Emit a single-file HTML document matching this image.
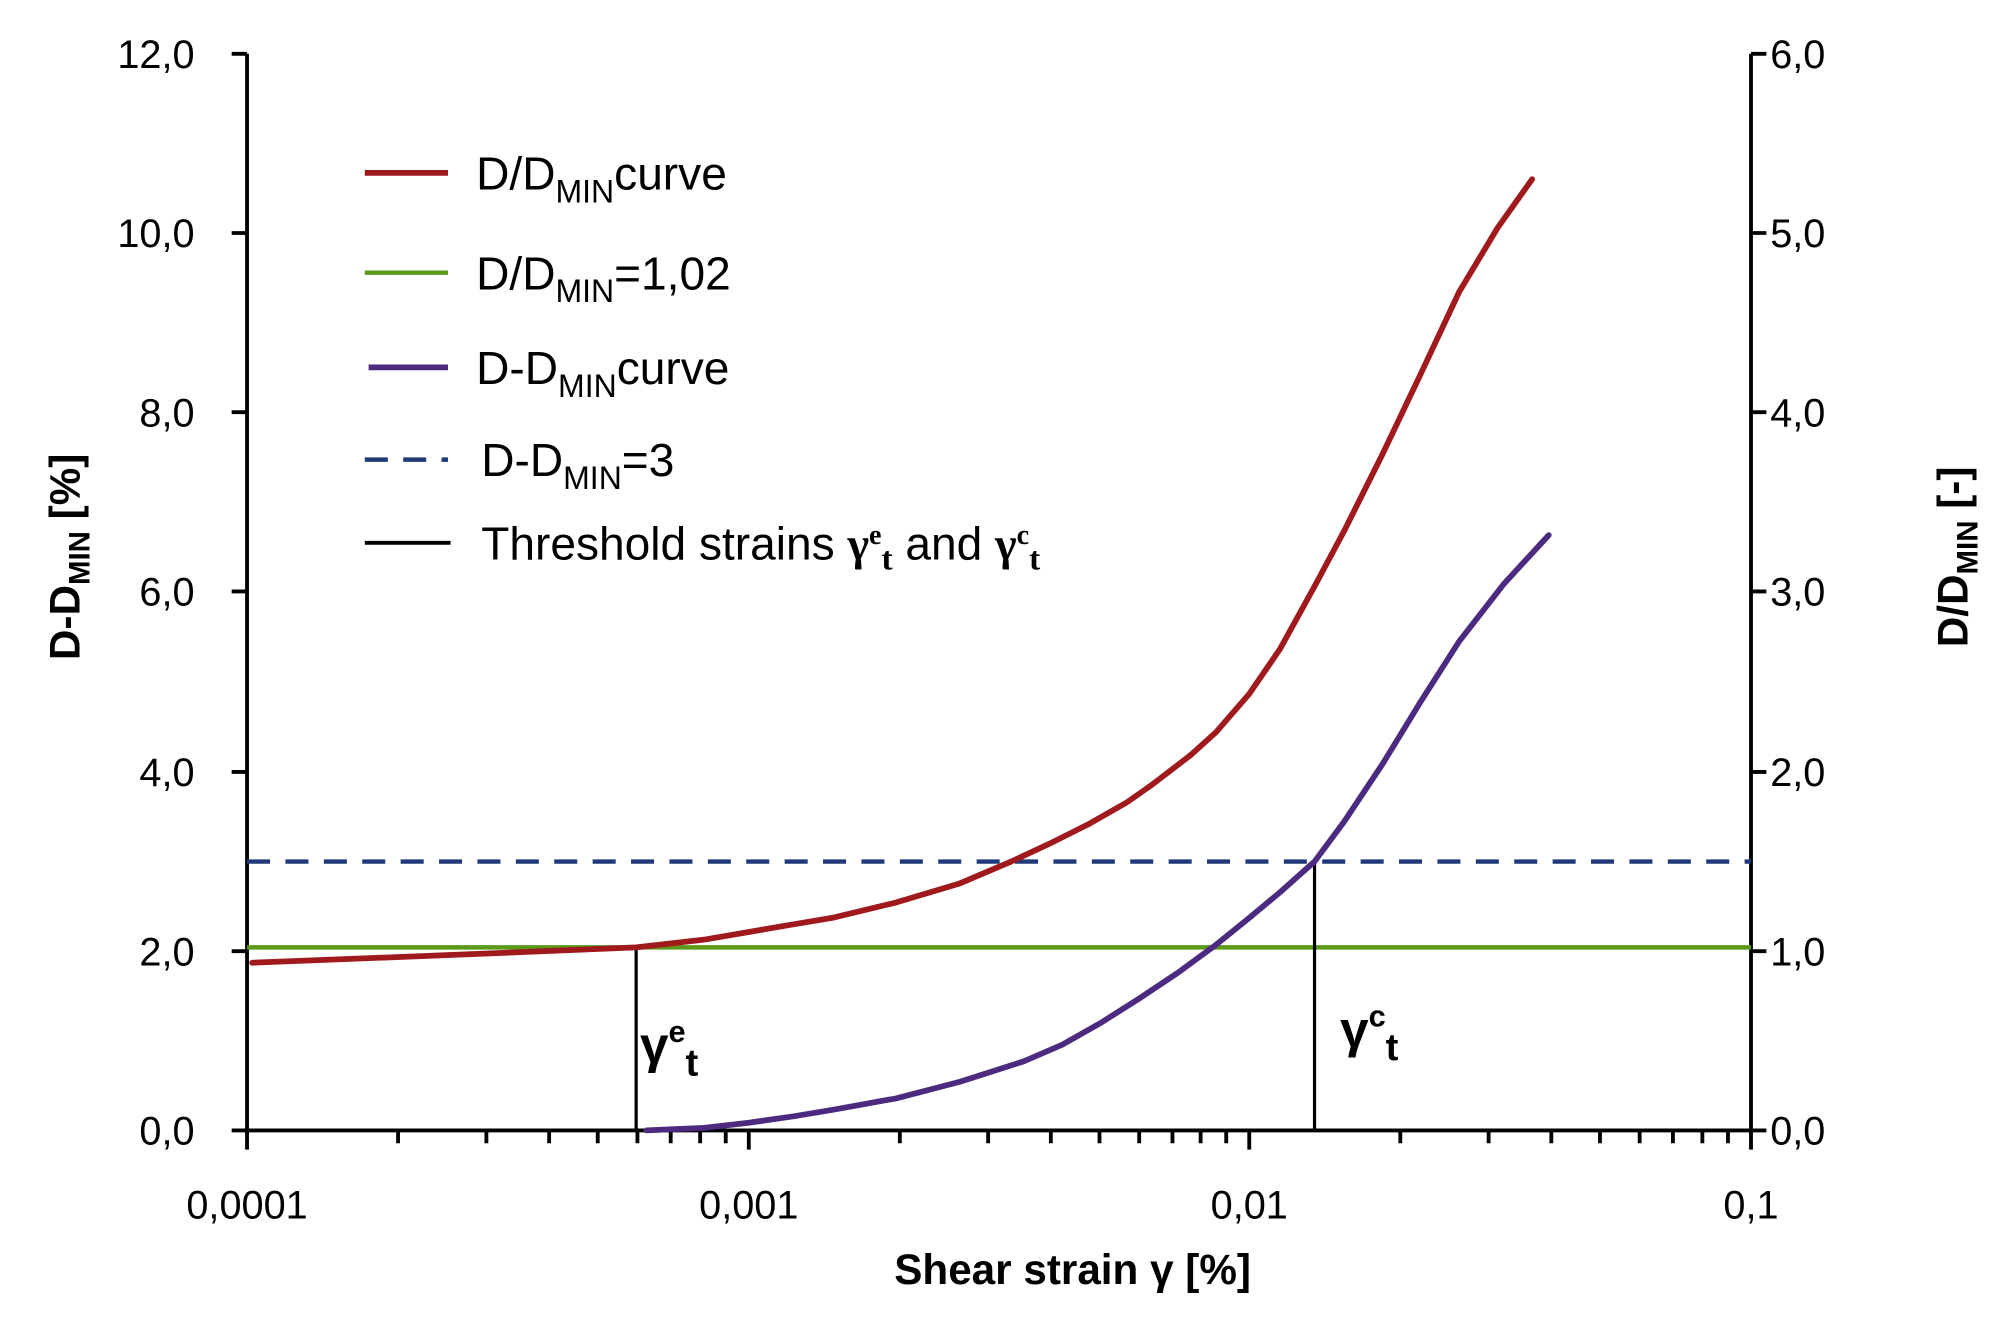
<!DOCTYPE html>
<html><head><meta charset="utf-8"><style>
html,body{margin:0;padding:0;background:#fff;}
svg{display:block;}
text{font-family:"Liberation Sans",sans-serif;}
</style></head><body>
<svg width="2007" height="1325" viewBox="0 0 1568 1035" preserveAspectRatio="none" xmlns="http://www.w3.org/2000/svg">
<g stroke="#000" stroke-width="3" fill="none">
<line x1="193" y1="42" x2="193" y2="885"/>
<line x1="1368" y1="42" x2="1368" y2="885"/>
<line x1="191" y1="883" x2="1370" y2="883"/>
<path d="M181 42H193M181 182H193M181 322H193M181 462H193M181 603H193M181 743H193M181 883H193"/>
<path d="M1368 42H1380M1368 182H1380M1368 322H1380M1368 462H1380M1368 603H1380M1368 743H1380M1368 883H1380"/>
<path d="M193 883V898M585 883V898M976 883V898M1368 883V898"/>
<path d="M311 883V893M380 883V893M429 883V893M467 883V893M498 883V893M524 883V893M547 883V893M567 883V893
M703 883V893M772 883V893M821 883V893M859 883V893M890 883V893M916 883V893M938 883V893M958 883V893
M1094 883V893M1163 883V893M1212 883V893M1250 883V893M1281 883V893M1307 883V893M1330 883V893M1350 883V893"/>
</g>
<line x1="193" y1="740" x2="1368" y2="740" stroke="#5a9a1a" stroke-width="3.5"/>
<line x1="193" y1="673" x2="1368" y2="673" stroke="#1f3a78" stroke-width="3.5" stroke-dasharray="18,12"/>
<g stroke="#000" stroke-width="2.5">
<line x1="497" y1="740" x2="497" y2="883"/>
<line x1="1027" y1="673" x2="1027" y2="883"/>
</g>
<polyline points="197,752 300,748 400,744 497,740 550,734 585,728 620,722 650,717 700,705 750,690 790,673 820,659 850,644 880,627 900,613 930,590 950,572 976,542 1000,507 1027,458 1050,415 1080,355 1110,292 1140,228 1170,178 1197,140" stroke="#a0191c" stroke-width="4.5" fill="none" stroke-linejoin="round" stroke-linecap="round"/>
<polyline points="505,883 550,881 585,877 620,872 650,867 700,858 750,845 800,829 830,816 860,799 890,780 920,760 950,738 976,717 1000,697 1027,673 1050,642 1080,597 1110,548 1140,501 1175,456 1210,418" stroke="#4b2a80" stroke-width="4.5" fill="none" stroke-linejoin="round" stroke-linecap="round"/>
<g font-size="31" text-anchor="end" fill="#000">
<text x="152" y="53">12,0</text><text x="152" y="193">10,0</text><text x="152" y="333">8,0</text>
<text x="152" y="473">6,0</text><text x="152" y="614">4,0</text><text x="152" y="754">2,0</text><text x="152" y="894">0,0</text>
</g>
<g font-size="31" fill="#000">
<text x="1383" y="53">6,0</text><text x="1383" y="193">5,0</text><text x="1383" y="333">4,0</text>
<text x="1383" y="473">3,0</text><text x="1383" y="614">2,0</text><text x="1383" y="754">1,0</text><text x="1383" y="894">0,0</text>
</g>
<g font-size="31" text-anchor="middle">
<text x="193" y="952">0,0001</text><text x="585" y="952">0,001</text><text x="976" y="952">0,01</text><text x="1368" y="952">0,1</text>
</g>
<text x="838" y="1003" font-size="33" font-weight="bold" text-anchor="middle">Shear strain γ [%]</text>
<text transform="translate(62,435) rotate(-90)" font-size="33" font-weight="bold" text-anchor="middle">D-D<tspan font-size="23" dy="8">MIN</tspan><tspan dy="-8"> [%]</tspan></text>
<text transform="translate(1537,435) rotate(-90)" font-size="33" font-weight="bold" text-anchor="middle">D/D<tspan font-size="23" dy="8">MIN</tspan><tspan dy="-8"> [-]</tspan></text>
<g stroke-width="4.5">
<line x1="285" y1="135" x2="350" y2="135" stroke="#a0191c"/>
<line x1="285" y1="213" x2="350" y2="213" stroke="#5a9a1a" stroke-width="3.5"/>
<line x1="288" y1="287" x2="350" y2="287" stroke="#4b2a80"/>
<line x1="285" y1="359" x2="350" y2="359" stroke="#1f3a78" stroke-width="3.5" stroke-dasharray="18,12"/>
<line x1="285" y1="424" x2="352" y2="424" stroke="#000" stroke-width="3"/>
</g>
<g font-size="36">
<text x="372" y="148">D/D<tspan font-size="25" dy="10">MIN</tspan><tspan dy="-10">curve</tspan></text>
<text x="372" y="226">D/D<tspan font-size="25" dy="10">MIN</tspan><tspan dy="-10">=1,02</tspan></text>
<text x="372" y="300">D-D<tspan font-size="25" dy="10">MIN</tspan><tspan dy="-10">curve</tspan></text>
<text x="376" y="372">D-D<tspan font-size="25" dy="10">MIN</tspan><tspan dy="-10">=3</tspan></text>
<text x="376" y="437">Threshold strains <tspan font-family="Liberation Serif" font-weight="bold">γ</tspan><tspan font-size="22" dy="-12" font-family="Liberation Serif" font-weight="bold">e</tspan><tspan font-size="26" dy="20" font-family="Liberation Serif" font-weight="bold">t</tspan><tspan dy="-8"> and </tspan><tspan font-family="Liberation Serif" font-weight="bold">γ</tspan><tspan font-size="22" dy="-12" font-family="Liberation Serif" font-weight="bold">c</tspan><tspan font-size="26" dy="20" font-family="Liberation Serif" font-weight="bold">t</tspan></text>
</g>
<text x="500" y="830" font-size="40" font-family="Liberation Serif" font-weight="bold">γ<tspan font-size="24" dy="-16">e</tspan><tspan font-size="30" dy="26">t</tspan></text>
<text x="1047" y="818" font-size="40" font-family="Liberation Serif" font-weight="bold">γ<tspan font-size="24" dy="-16">c</tspan><tspan font-size="30" dy="26">t</tspan></text>
</svg>
</body></html>
